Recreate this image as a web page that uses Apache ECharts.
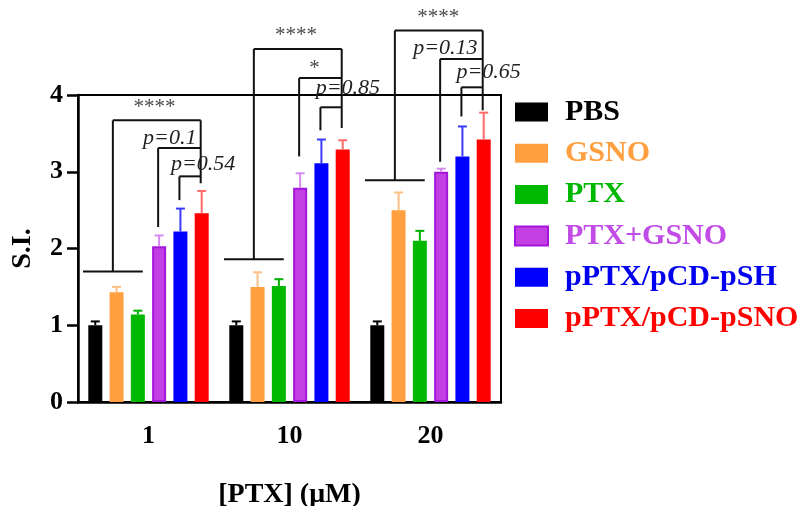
<!DOCTYPE html>
<html>
<head>
<meta charset="utf-8">
<script src="https://cdn.jsdelivr.net/npm/echarts@6/dist/echarts.min.js"></script>
<style>html,body{margin:0;padding:0;background:#fff}#c{width:799px;height:506px}</style>
</head>
<body>
<div id="c"></div>
<script>
// ---- data ----
const categories = ['1', '10', '20'];
const seriesNames = ['PBS', 'GSNO', 'PTX', 'PTX+GSNO', 'pPTX/pCD-pSH', 'pPTX/pCD-pSNO'];
const pbsMean = [1.00, 1.00, 1.00];
const pbsErr = [0.05, 0.05, 0.05];
const gsnoMean = [1.43, 1.50, 2.50];
const gsnoErr = [0.07, 0.19, 0.23];
const ptxMean = [1.14, 1.51, 2.10];
const ptxErr = [0.05, 0.09, 0.13];
const ptxGsnoMean = [2.03, 2.79, 3.00];
const ptxGsnoErr = [0.14, 0.19, 0.04];
const pshMean = [2.22, 3.11, 3.20];
const pshErr = [0.30, 0.31, 0.39];
const psnoMean = [2.46, 3.29, 3.42];
const psnoErr = [0.29, 0.12, 0.35];
const yTicks = [0, 1, 2, 3, 4];

// significance annotations (values in S.I. units)
const controlLevel = [1.70, 1.86, 2.89];
const starBracketTop = [3.67, 4.60, 4.84];
const purpleBracketBottom = [2.28, 3.20, 3.13];
const purpleBracketTop = [3.31, 4.22, 4.47];
const blueBracketBottom = [2.63, 3.54, 3.72];
const blueBracketTop = [2.94, 3.84, 4.10];
const redBracketBottom = [2.85, 3.57, 3.80];
const starLabels = ['****', '****', '****'];
const purpleLabels = ['p=0.1', '*', 'p=0.13'];
const blueLabels = ['p=0.54', 'p=0.85', 'p=0.65'];
const starLabelLevel = [3.84, 4.77, 5.01];
const purpleLabelLevel = [3.44, 4.34, 4.61];
const blueLabelLevel = [3.10, 4.09, 4.30];

// ---- style ----
const means = [pbsMean, gsnoMean, ptxMean, ptxGsnoMean, pshMean, psnoMean];
const errs = [pbsErr, gsnoErr, ptxErr, ptxGsnoErr, pshErr, psnoErr];
const barColors = ['#000000', '#ff9f40', '#00b800', '#c23fe3', '#0000ff', '#ff0000'];
const errColors = ['#000000', '#ffbf85', '#00b000', '#d68af0', '#3a3aff', '#ff6a6a'];
const legendColors = ['#000000', '#ff9f40', '#00b800', '#c24ce6', '#0000ee', '#ff0000'];
const BAR_W = 14, BAR_GAP = 0.52;
const PITCH = BAR_W * (1 + BAR_GAP);
const FONT = '"Liberation Serif", "Times New Roman", serif';
// label x offsets in bar-pitch units from the category centre
const starLabelDx = [0.28, 0.31, 0.37];
const purpleLabelDx = [1.0, 1.17, 0.70];
const blueLabelDx = [2.57, 2.74, 2.73];

function errRender(idx) {
  return function (params, api) {
    const c = api.value(0), m = api.value(1), e = api.value(2);
    const b = api.coord([c, m]);
    const t = api.coord([c, m + e]);
    const x = b[0] + (idx - 2.5) * PITCH;
    const st = { stroke: errColors[idx], lineWidth: 2 };
    return {
      type: 'group', children: [
        { type: 'line', shape: { x1: x, y1: b[1], x2: x, y2: t[1] }, style: st },
        { type: 'line', shape: { x1: x - 4.5, y1: t[1], x2: x + 4.5, y2: t[1] }, style: st }
      ]
    };
  };
}

function bracketRender(params, api) {
  const g = api.value(0);
  const P = v => api.coord([g, v]);
  const cx = P(0)[0];
  const bx = i => cx + (i - 2.5) * PITCH - 1;
  const y = v => P(v)[1];
  const st = { stroke: '#111', lineWidth: 2 };
  const L = (x1, y1, x2, y2) => ({ type: 'line', shape: { x1, y1, x2, y2 }, style: st });
  const xl = cx - 3.08 * PITCH, xr = cx - 0.27 * PITCH, xm = (xl + xr) / 2;
  const xRed = bx(5), xPur = bx(3), xBlue = bx(4);
  const ch = [
    L(xl, y(controlLevel[g]), xr, y(controlLevel[g])),
    L(xm, y(controlLevel[g]), xm, y(starBracketTop[g])),
    L(xm, y(starBracketTop[g]), xRed, y(starBracketTop[g])),
    L(xRed, y(starBracketTop[g]), xRed, y(redBracketBottom[g])),
    L(xPur, y(purpleBracketBottom[g]), xPur, y(purpleBracketTop[g])),
    L(xPur, y(purpleBracketTop[g]), xRed, y(purpleBracketTop[g])),
    L(xBlue, y(blueBracketBottom[g]), xBlue, y(blueBracketTop[g])),
    L(xBlue, y(blueBracketTop[g]), xRed, y(blueBracketTop[g]))
  ];
  const txt = (s, dx, lv, star) => ({
    type: 'text', x: cx + dx * PITCH, y: y(lv),
    style: {
      text: s, fill: star ? '#4a4a4a' : '#222', fontFamily: FONT,
      fontSize: star ? 21 : 22, fontStyle: star ? 'normal' : 'italic',
      align: 'center', verticalAlign: 'middle'
    }
  });
  ch.push(txt(starLabels[g], starLabelDx[g], starLabelLevel[g], true));
  ch.push(txt(purpleLabels[g], purpleLabelDx[g], purpleLabelLevel[g], purpleLabels[g].indexOf('p') < 0));
  ch.push(txt(blueLabels[g], blueLabelDx[g], blueLabelLevel[g], false));
  return { type: 'group', children: ch };
}

const series = [];
seriesNames.forEach((n, i) => {
  const s = {
    name: n, type: 'bar', data: means[i], barWidth: BAR_W, barGap: (BAR_GAP * 100) + '%',
    itemStyle: { color: barColors[i] }
  };
  if (i === 3) s.itemStyle = { color: barColors[i], borderColor: '#a316da', borderWidth: 2 };
  series.push(s);
});
seriesNames.forEach((n, i) => {
  series.push({
    type: 'custom', renderItem: errRender(i), clip: false, z: 3,
    data: categories.map((c, k) => [k, means[i][k], errs[i][k]])
  });
});
series.push({
  type: 'custom', renderItem: bracketRender, clip: false, z: 4,
  data: categories.map((c, k) => [k])
});

const chart = echarts.init(document.getElementById('c'), null, { renderer: 'canvas' });
chart.setOption({
  animation: false,
  backgroundColor: '#fff',
  grid: {
    left: 78, right: 298, top: 95, bottom: 104, show: true, borderColor: '#000', borderWidth: 2,
    containLabel: false, outerBoundsMode: 'none'
  },
  legend: {
    orient: 'vertical', left: 509, top: 92, itemWidth: 33, itemHeight: 19, itemGap: 11.3,
    icon: 'rect', selectedMode: false,
    data: seriesNames.map((n, i) => ({ name: n, textStyle: { color: legendColors[i] } })),
    textStyle: { fontFamily: FONT, fontWeight: 'bold', fontSize: 30, padding: [0, 0, 0, 12] }
  },
  xAxis: {
    type: 'category', data: categories,
    name: '[PTX] (μM)', nameLocation: 'middle', nameGap: 79,
    nameTextStyle: { fontFamily: FONT, fontWeight: 'bold', fontSize: 28, color: '#000' },
    axisLine: { lineStyle: { color: '#000', width: 2.5 } },
    axisTick: { alignWithLabel: true, length: 11, lineStyle: { width: 2.5, color: '#000' } },
    axisLabel: { fontFamily: FONT, fontWeight: 'bold', fontSize: 26, color: '#000', margin: 21 }
  },
  yAxis: {
    type: 'value', min: yTicks[0], max: yTicks[yTicks.length - 1], interval: 1,
    name: 'S.I.', nameLocation: 'middle', nameGap: 41, nameRotate: 90,
    nameTextStyle: { fontFamily: FONT, fontWeight: 'bold', fontSize: 28, color: '#000' },
    axisLine: { show: true, lineStyle: { color: '#000', width: 2.5 } },
    axisTick: { show: true, length: 11, lineStyle: { width: 2.5, color: '#000' } },
    splitLine: { show: false },
    axisLabel: { fontFamily: FONT, fontWeight: 'bold', fontSize: 26, color: '#000', margin: 15 }
  },
  series: series
});
</script>
</body>
</html>
